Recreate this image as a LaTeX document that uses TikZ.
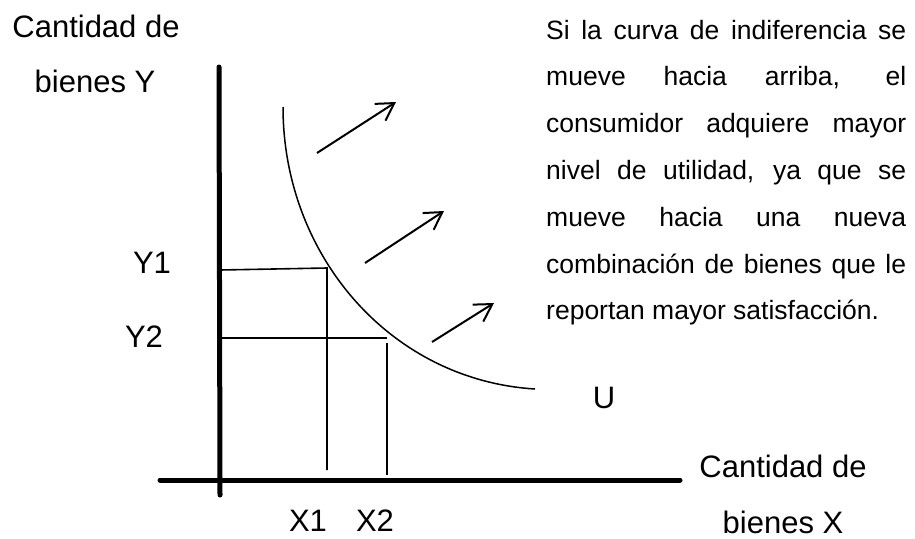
\documentclass[tikz,border=0pt]{standalone}
\usepackage{fontspec}
\setmainfont{Liberation Sans}
\usetikzlibrary{arrows.meta}

\begin{document}
\begin{tikzpicture}[
  x=1pt, y=-1pt,
  axis/.style={line width=5pt, line cap=round},
  guide/.style={line width=1.6pt},
  curve/.style={line width=1.5pt},
  shiftarrow/.style={line width=2pt, -{Straight Barb[length=17pt, width=20pt]}},
  lbl/.style={font=\fontsize{31}{36}\selectfont, inner sep=0pt, anchor=base},
  note/.style={font=\fontsize{26.5}{46.8}\selectfont, inner sep=0pt,
    text width=360pt, align=justify, anchor=base west}
]
  \useasboundingbox (0,0) rectangle (915,538);

  % axes
  \coordinate (ytop) at (219,67);
  \coordinate (ybot) at (220,495);
  \coordinate (xleft) at (160,480);
  \coordinate (xright) at (680,480);
  \draw[axis] (ytop) -- (ybot);
  \draw[axis] (xleft) -- (xright);

  % indifference curve
  \coordinate (u0) at (283,107);
  \coordinate (u1) at (535,389);
  \draw[curve] (u0) .. controls (283,255) and (390,380) .. (u1);

  % points on the curve
  \coordinate (y1a) at (220,270);
  \coordinate (p1) at (327,268);
  \coordinate (x1a) at (327,470);
  \coordinate (y2a) at (220,338);
  \coordinate (p2) at (387,338);
  \coordinate (p2b) at (387,343);
  \coordinate (x2a) at (387,475);
  \draw[guide] (y1a) -- (p1) -- (x1a);
  \draw[guide] (y2a) -- (p2);
  \draw[guide] (p2b) -- (x2a);

  % shift arrows
  \coordinate (s1) at (317,153);
  \coordinate (e1) at (396,102);
  \coordinate (s2) at (365,263);
  \coordinate (e2) at (444,211);
  \coordinate (s3) at (432,342);
  \coordinate (e3) at (494,303);
  \foreach \i in {1,2,3}
    \draw[shiftarrow] (s\i) -- (e\i);

  % labels
  \node[lbl] (ylab1) at (96,37) {Cantidad de};
  \node[lbl] (ylab2) at (95,92) {bienes Y};
  \node[lbl] (xlab1) at (783,477) {Cantidad de};
  \node[lbl] (xlab2) at (783,533) {bienes X};
  \node[lbl] (ly1) at (152,273) {Y1};
  \node[lbl] (ly2) at (144,347) {Y2};
  \node[lbl] (lx1) at (308,531) {X1};
  \node[lbl] (lx2) at (375,531) {X2};
  \node[lbl] (lu) at (604,408) {U};

  % explanation
  \node[note] (expl) at (546,39) {Si la curva de indiferencia se\linebreak
    mueve hacia arriba, el\linebreak
    consumidor adquiere mayor\linebreak
    nivel de utilidad, ya que se\linebreak
    mueve hacia una nueva\linebreak
    combinación de bienes que le\linebreak
    reportan mayor satisfacción.};
\end{tikzpicture}
\end{document}
